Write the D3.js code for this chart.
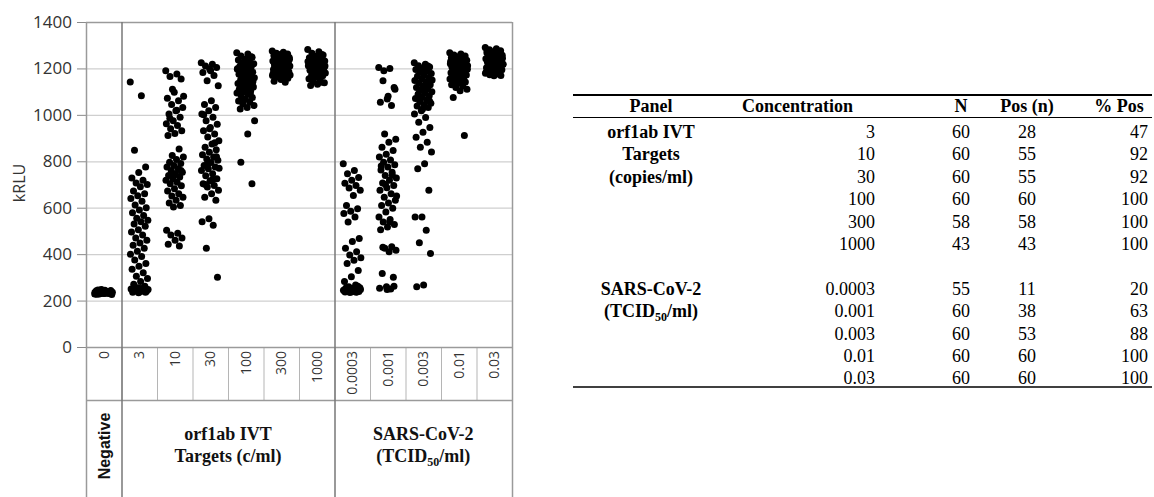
<!DOCTYPE html>
<html>
<head>
<meta charset="utf-8">
<script src="https://cdn.jsdelivr.net/npm/d3@7"></script>
<style>
  body { margin: 0; background: #fff; }
  svg { display: block; }
</style>
</head>
<body>
<div id="chart"></div>
<script>
// --- data ---
const categories = ["0", "3", "10", "30", "100", "300", "1000", "0.0003", "0.001", "0.003", "0.01", "0.03"];
const groupNames = [["Negative"], ["orf1ab IVT", "Targets (c/ml)"], ["SARS-CoV-2", "(TCID50/ml)"]];
const groupSizes = [1, 6, 5];
const yTicks = [0, 200, 400, 600, 800, 1000, 1200, 1400];

const negative = [228,232,235,238,240,242,236,230,226,244,246,239,233,229,237,241,243,231,227,234,248,236,240,232,238,245,229,235,242,237,233,239,231,244,236,240,228,234,241,238];
const orf3 = [1142,1082,848,775,752,728,718,706,700,690,672,660,652,640,628,612,600,590,578,566,555,546,540,530,520,505,495,482,470,460,448,438,425,412,400,390,375,360,348,335,320,305,295,282,270,262,255,250,246,242,240,238,236,240,244,248,252,258,236,234];
const orf10 = [1190,1176,1165,1154,1097,1072,1061,1045,1032,1018,1004,990,975,962,954,940,932,920,911,853,825,818,808,796,790,782,775,768,760,753,746,739,732,725,718,710,703,695,682,672,660,650,645,632,620,610,603,503,490,482,470,460,443,435,1110,1080,1020,985,760,740];
const orf30 = [1225,1218,1210,1204,1196,1182,1170,1147,1125,1061,1045,1032,1018,1004,990,975,960,946,932,918,905,889,875,861,850,839,828,818,810,804,795,782,775,768,760,746,738,725,715,703,696,689,675,660,645,632,553,540,525,425,300,1190,1000,880,790,770,720,700,820,940];
const orf100 = [1268,1262,1254,1248,1240,1236,1230,1225,1220,1215,1211,1206,1202,1197,1193,1188,1184,1180,1175,1170,1166,1160,1154,1150,1146,1140,1135,1130,1125,1120,1116,1111,1105,1100,1094,1089,1082,1075,1068,1060,1054,1047,1040,1032,1025,1250,1228,1200,1178,1162,1143,1118,1108,1092,1065,975,918,796,703,1210];
const orf300 = [1275,1270,1265,1262,1258,1255,1252,1250,1247,1244,1241,1238,1235,1232,1230,1227,1224,1221,1218,1215,1212,1210,1207,1204,1201,1198,1195,1192,1189,1186,1183,1180,1177,1174,1170,1166,1162,1158,1152,1145,1140,1260,1240,1228,1216,1203,1190,1178,1165,1250,1235,1222,1208,1196,1184,1172,1155];
const orf1000 = [1282,1272,1265,1258,1252,1246,1240,1236,1232,1228,1224,1220,1216,1212,1208,1204,1200,1196,1192,1188,1184,1180,1176,1172,1168,1162,1156,1150,1144,1138,1132,1126,1260,1245,1230,1215,1200,1185,1170,1155,1140,1250,1210];
const sars00003 = [789,760,746,730,718,705,696,685,675,653,610,596,585,575,560,539,467,455,425,410,396,385,374,360,330,303,282,267,260,255,252,250,248,246,244,242,240,239,238,237,236,244,248,252,256,262,241,243,245,247,249,251,253,238,235];
const sars0001 = [1204,1200,1147,1118,1068,1054,1040,918,895,882,860,846,830,818,806,796,785,775,762,753,739,728,718,707,696,686,675,660,645,632,620,610,598,582,560,549,539,528,517,505,432,425,417,410,317,300,260,253,250,1190,1110,1080,780,740,700,650,540,430,262,248];
const sars0003 = [1225,1218,1212,1206,1200,1195,1190,1184,1178,1172,1166,1160,1154,1148,1142,1136,1130,1124,1118,1112,1106,1100,1094,1088,1082,1076,1070,1064,1058,1050,1044,1038,1032,1018,1004,989,968,946,925,904,882,861,840,789,768,675,560,560,503,449,403,267,260,1210,1188,1150,1120,1090,1060,1025];
const sars001 = [1268,1262,1258,1254,1250,1246,1242,1238,1235,1232,1229,1226,1223,1220,1217,1214,1211,1208,1205,1202,1199,1196,1193,1190,1187,1184,1181,1178,1175,1172,1169,1166,1162,1158,1154,1150,1146,1142,1136,1130,1124,1118,1110,1104,1075,911,1244,1230,1218,1206,1194,1182,1170,1160,1225,1212,1200,1188,1176,1240];
const sars003 = [1290,1285,1280,1276,1272,1268,1264,1260,1257,1254,1251,1248,1245,1242,1239,1236,1233,1230,1227,1224,1221,1218,1215,1212,1209,1206,1203,1200,1197,1194,1191,1188,1185,1182,1179,1176,1173,1170,1168,1278,1266,1255,1244,1232,1220,1208,1196,1184,1272,1250,1228,1206,1190,1262,1240,1218,1196,1180,1246,1236];
const seriesValues = [negative, orf3, orf10, orf30, orf100, orf300, orf1000, sars00003, sars0001, sars0003, sars001, sars003];

// table
const tablePanels = [["orf1ab IVT", "Targets", "(copies/ml)"], ["SARS-CoV-2", "(TCID50/ml)"]];
const orfConc = ["3", "10", "30", "100", "300", "1000"];
const orfN = [60, 60, 60, 60, 58, 43];
const orfPos = [28, 55, 55, 60, 58, 43];
const orfPct = [47, 92, 92, 100, 100, 100];
const sarsConc = ["0.0003", "0.001", "0.003", "0.01", "0.03"];
const sarsN = [55, 60, 60, 60, 60];
const sarsPos = [11, 38, 53, 60, 60];
const sarsPct = [20, 63, 88, 100, 100];

// --- layout ---
const W = 1154, H = 497;
const plot = {left: 86, right: 512, top: 22, bottom: 347};
const tickRowBottom = 400;
const sans = "'Open Sans', 'Noto Sans', sans-serif";
const serif = "'Liberation Serif', 'Times New Roman', serif";

const svg = d3.select("#chart").append("svg")
    .attr("width", W)
    .attr("height", H);

const x = d3.scaleBand()
    .domain(categories)
    .range([plot.left, plot.right])
    .paddingInner(0);

const y = d3.scaleLinear()
    .domain([0, 1400])
    .range([plot.bottom, plot.top]);

// grid
svg.append("g")
    .selectAll("line")
    .data(yTicks.slice(1, -1))
    .enter().append("line")
    .attr("x1", plot.left).attr("x2", plot.right)
    .attr("y1", d => y(d) + 0.5).attr("y2", d => y(d) + 0.5)
    .attr("stroke", "#cfcfcf")
    .attr("stroke-width", 1.2);

// y axis
const yAxis = svg.append("g")
    .attr("transform", "translate(" + plot.left + ",0)")
    .call(d3.axisLeft(y).tickValues(yTicks).tickFormat(d3.format("d")).tickSize(9).tickPadding(5));
yAxis.select(".domain").remove();
yAxis.selectAll(".tick line").attr("stroke", "#8a8a8a");
yAxis.selectAll(".tick text")
    .attr("font-family", sans)
    .attr("font-size", 17)
    .attr("fill", "#333");

svg.append("text")
    .attr("transform", "translate(25," + 183 + ") rotate(-90)")
    .attr("text-anchor", "middle")
    .attr("font-family", sans)
    .attr("font-size", 16)
    .attr("fill", "#333")
    .text("kRLU");

// tick label cells
svg.append("g")
    .selectAll("line")
    .data(categories.slice(1))
    .enter().append("line")
    .attr("x1", d => x(d) + 0.5).attr("x2", d => x(d) + 0.5)
    .attr("y1", plot.bottom).attr("y2", tickRowBottom)
    .attr("stroke", "#b5b5b5");

svg.append("g")
    .selectAll("text")
    .data(categories)
    .enter().append("text")
    .attr("transform", d => "translate(" + (x(d) + x.bandwidth() / 2 + 5) + "," + (plot.bottom + 4) + ") rotate(-90)")
    .attr("text-anchor", "end")
    .attr("font-family", sans)
    .attr("font-size", 14)
    .attr("fill", "#333")
    .text(d => d);

// frame lines
svg.append("line")
    .attr("x1", plot.left).attr("x2", plot.right)
    .attr("y1", plot.top + 0.5).attr("y2", plot.top + 0.5)
    .attr("stroke", "#9a9a9a").attr("stroke-width", 1.5);
svg.append("line")
    .attr("x1", plot.left).attr("x2", plot.right)
    .attr("y1", plot.bottom + 0.5).attr("y2", plot.bottom + 0.5)
    .attr("stroke", "#9a9a9a").attr("stroke-width", 1.5);
svg.append("line")
    .attr("x1", plot.left).attr("x2", plot.right)
    .attr("y1", tickRowBottom + 0.5).attr("y2", tickRowBottom + 0.5)
    .attr("stroke", "#9a9a9a").attr("stroke-width", 1.5);

// group boundaries (full height)
let idx = 0;
const bounds = [categories[0]];
groupSizes.forEach(n => { idx += n; bounds.push(categories[idx]); });
const boundX = bounds.map(c => c === undefined ? plot.right : x(c));
svg.append("g")
    .selectAll("line")
    .data(boundX)
    .enter().append("line")
    .attr("x1", d => d + 0.5).attr("x2", d => d + 0.5)
    .attr("y1", plot.top).attr("y2", H)
    .attr("stroke", (d, i) => (i === 0 || i === boundX.length - 1) ? "#9a9a9a" : "#777")
    .attr("stroke-width", 1.5);

// group labels
groupNames.forEach((lines, gi) => {
    const cx = (boundX[gi] + boundX[gi + 1]) / 2;
    if (gi === 0) {
        svg.append("text")
            .attr("transform", "translate(" + (cx + 6) + ",446) rotate(-90)")
            .attr("text-anchor", "middle")
            .attr("font-family", "'Liberation Sans', Arial, sans-serif")
            .attr("font-weight", "bold")
            .attr("font-size", 16)
            .attr("fill", "#111")
            .text(lines[0]);
        return;
    }
    lines.forEach((ln, li) => {
        const t = svg.append("text")
            .attr("x", cx)
            .attr("y", 440 + li * 22)
            .attr("text-anchor", "middle")
            .attr("font-family", serif)
            .attr("font-weight", "bold")
            .attr("font-size", 18)
            .attr("fill", "#111");
        const m = ln.match(/^(.*TCID)(50)(.*)$/);
        if (m) {
            t.append("tspan").text(m[1]);
            t.append("tspan").attr("font-size", 12).attr("dy", 4).text(m[2]);
            t.append("tspan").attr("dy", -4).text(m[3]);
        } else {
            t.text(ln);
        }
    });
});

// points (deterministic jitter inside each column)
const pts = [];
seriesValues.forEach((vals, ci) => {
    vals.forEach((v, i) => pts.push({cat: categories[ci], v: v, i: i}));
});
const jitter = i => (((i * 0.618034) % 1) - 0.5) * 18;
svg.append("g")
    .selectAll("circle")
    .data(pts)
    .enter().append("circle")
    .attr("cx", d => x(d.cat) + x.bandwidth() / 2 + jitter(d.i))
    .attr("cy", d => y(d.v))
    .attr("r", 3.5)
    .attr("fill", "#000");

// --- table ---
const tbl = svg.append("g").attr("font-family", serif).attr("font-size", 18).attr("fill", "#000");
const tx = {panel: 651, concStart: 742, concEnd: 875, n: 961, pos: 1027, pctHead: 1119, pctEnd: 1148};
const ruleX = [573, 1152];
tbl.append("line").attr("x1", ruleX[0]).attr("x2", ruleX[1]).attr("y1", 95).attr("y2", 95)
    .attr("stroke", "#000").attr("stroke-width", 2);
tbl.append("line").attr("x1", ruleX[0]).attr("x2", ruleX[1]).attr("y1", 117.5).attr("y2", 117.5)
    .attr("stroke", "#000").attr("stroke-width", 1);
tbl.append("line").attr("x1", ruleX[0]).attr("x2", ruleX[1]).attr("y1", 387).attr("y2", 387)
    .attr("stroke", "#000").attr("stroke-width", 1.5);

const head = [["Panel", tx.panel, "middle"], ["Concentration", tx.concStart, "start"], ["N", tx.n, "middle"],
              ["Pos (n)", tx.pos, "middle"], ["% Pos", tx.pctHead, "middle"]];
tbl.selectAll(".hd").data(head).enter().append("text")
    .attr("class", "hd")
    .attr("x", d => d[1]).attr("y", 112)
    .attr("text-anchor", d => d[2])
    .attr("font-weight", "bold")
    .text(d => d[0]);

const rowH = 22.4, row0 = 138;
const rows = [];
orfConc.forEach((c, i) => rows.push({r: i, c: c, n: orfN[i], p: orfPos[i], pct: orfPct[i]}));
sarsConc.forEach((c, i) => rows.push({r: i + orfConc.length + 1, c: c, n: sarsN[i], p: sarsPos[i], pct: sarsPct[i]}));

const rowG = tbl.selectAll(".row").data(rows).enter().append("g")
    .attr("transform", d => "translate(0," + (row0 + d.r * rowH) + ")");
rowG.append("text").attr("x", tx.concEnd).attr("text-anchor", "end").text(d => d.c);
rowG.append("text").attr("x", tx.n).attr("text-anchor", "middle").text(d => d.n);
rowG.append("text").attr("x", tx.pos).attr("text-anchor", "middle").text(d => d.p);
rowG.append("text").attr("x", tx.pctEnd).attr("text-anchor", "end").text(d => d.pct);

const panelStarts = [0, orfConc.length + 1];
tablePanels.forEach((lines, pi) => {
    lines.forEach((ln, li) => {
        const t = tbl.append("text")
            .attr("x", tx.panel)
            .attr("y", row0 + (panelStarts[pi] + li) * rowH)
            .attr("text-anchor", "middle")
            .attr("font-weight", "bold");
        const m = ln.match(/^(.*TCID)(50)(.*)$/);
        if (m) {
            t.append("tspan").text(m[1]);
            t.append("tspan").attr("font-size", 12).attr("dy", 4).text(m[2]);
            t.append("tspan").attr("dy", -4).text(m[3]);
        } else {
            t.text(ln);
        }
    });
});
</script>
</body>
</html>
